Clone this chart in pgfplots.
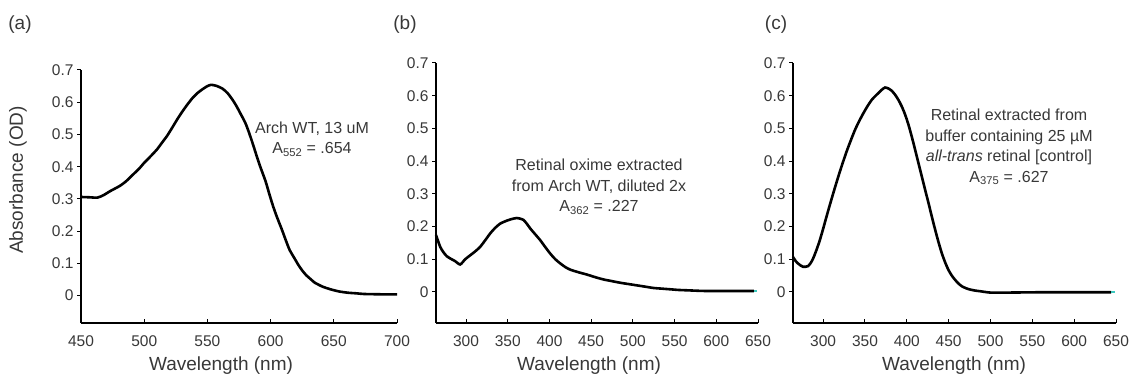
\documentclass[border=0pt]{standalone}
\usepackage{fontspec}
\setmainfont{Liberation Sans}
\usepackage{pgfplots}
\pgfplotsset{compat=1.18}
\definecolor{txt}{RGB}{56,56,56}
\definecolor{endmark}{RGB}{60,200,190}
\newcommand{\ticksize}{\fontsize{15.5bp}{18bp}\selectfont}
\newcommand{\titlesize}{\fontsize{19bp}{22bp}\selectfont}
\newcommand{\notesize}{\fontsize{16bp}{20.5bp}\selectfont}
\pgfplotsset{
  spec/.style={
    scale only axis, axis lines=left,
    axis line style={-, line width=1.8bp, black},
    tick align=outside, major tick length=4bp,
    tick style={line width=1bp, black},
    x tick style={yshift=4bp},
    ticklabel style={font=\ticksize, text=txt},
    xticklabel style={yshift=-5bp},
    /pgf/number format/assume math mode=true,
    /pgf/number format/fixed,
    ytick={0,0.1,0.2,0.3,0.4,0.5,0.6,0.7},
    ymax=0.7, clip=false,
  },
  curve/.style={black, line width=2.6bp, smooth, tension=0.4},
}

\begin{document}
\begin{tikzpicture}[x=1bp,y=1bp]
\useasboundingbox (0,0) rectangle (1130,383);

% (a) Arch WT
\begin{axis}[spec, at={(81bp,60bp)}, anchor=south west,
  width=316bp, height=253bp,
  xmin=450, xmax=700, ymin=-0.085,
  xtick={450,500,550,600,650,700}]
\addplot[curve] coordinates {
(450,0.306) (457,0.305) (463,0.304) (468,0.312) (473,0.324) (481,0.341)
(486,0.356) (491,0.375) (496,0.394) (500,0.412) (505,0.432) (510,0.453)
(514,0.474) (518,0.495) (522,0.520) (526,0.546) (530,0.570) (534,0.592)
(538,0.612) (542,0.628) (546,0.640) (550,0.650) (553,0.654) (557,0.651)
(562,0.642) (566,0.628) (570,0.607) (573,0.588) (576,0.566) (580,0.536)
(583,0.505) (586,0.470) (589,0.433) (592,0.398) (596,0.355) (599,0.315)
(602,0.277) (605,0.244) (609,0.204) (612,0.172) (615,0.142) (619,0.115)
(622,0.095) (625,0.078) (628,0.064) (632,0.050) (635,0.040) (641,0.028)
(647,0.020) (654,0.013) (661,0.009) (668,0.007) (674,0.005) (688,0.004)
(700,0.004)};
\end{axis}

% (b) retinal oxime from Arch WT
\begin{axis}[spec, at={(436bp,60bp)}, anchor=south west,
  width=322bp, height=260bp,
  xmin=264, xmax=650, ymin=-0.095,
  xtick={300,350,400,450,500,550,600,650}]
\addplot[curve] coordinates {
(264,0.174) (269,0.138) (273,0.121) (277,0.109) (282,0.101) (287,0.094)
(293,0.084) (299,0.100) (305,0.112) (311,0.124) (317,0.138) (323,0.158)
(329,0.179) (335,0.196) (341,0.209) (349,0.218) (355,0.223) (361,0.226)
(365,0.224) (369,0.220) (373,0.208) (377,0.194) (383,0.176) (389,0.158)
(395,0.137) (401,0.117) (407,0.100) (413,0.087) (419,0.076) (425,0.068)
(435,0.060) (445,0.053) (455,0.045) (465,0.038) (475,0.033) (485,0.028)
(495,0.024) (505,0.020) (515,0.016) (525,0.012) (535,0.010) (545,0.008)
(555,0.006) (565,0.005) (585,0.003) (615,0.003) (645,0.003)};
\addplot[endmark, line width=2bp] coordinates {(645,0.003) (649,0.003)};
\end{axis}

% (c) all-trans retinal control
\begin{axis}[spec, at={(793bp,60bp)}, anchor=south west,
  width=323bp, height=260bp,
  xmin=264, xmax=650, ymin=-0.095,
  xtick={300,350,400,450,500,550,600,650}]
\addplot[curve] coordinates {
(264,0.107) (267,0.095) (270,0.087) (273,0.081) (276,0.077) (279,0.077)
(282,0.079) (285,0.088) (288,0.102) (292,0.128) (296,0.158) (300,0.193)
(304,0.230) (308,0.266) (312,0.301) (316,0.335) (320,0.368) (324,0.399)
(328,0.429) (333,0.463) (338,0.495) (343,0.522) (348,0.546) (353,0.568)
(358,0.587) (362,0.598) (366,0.608) (370,0.618) (374,0.625) (378,0.622)
(382,0.615) (386,0.603) (390,0.587) (394,0.567) (398,0.542) (402,0.511)
(406,0.474) (410,0.434) (414,0.393) (418,0.352) (422,0.311) (426,0.271)
(430,0.229) (434,0.189) (438,0.151) (442,0.117) (446,0.089) (450,0.066)
(454,0.049) (458,0.036) (462,0.025) (466,0.017) (471,0.011) (476,0.007)
(482,0.004) (488,0.002) (500,-0.002) (520,-0.002) (560,-0.001)
(600,-0.001) (644,-0.001)};
\addplot[endmark, line width=2bp] coordinates {(644,-0.001) (649,-0.001)};
\end{axis}

% panel letters, axis titles, notes
\node[font=\titlesize, text=txt] at (20,358) {(a)};
\node[font=\titlesize, text=txt] at (405,358) {(b)};
\node[font=\titlesize, text=txt] at (776,358) {(c)};
\node[font=\titlesize, text=txt, rotate=90] at (18,203) {Absorbance (OD)};
\node[font=\titlesize, text=txt] at (221,17) {Wavelength (nm)};
\node[font=\titlesize, text=txt] at (589,17) {Wavelength (nm)};
\node[font=\titlesize, text=txt] at (954,17) {Wavelength (nm)};
\node[font=\notesize, text=txt, align=center] at (312,244)
  {Arch WT, 13 uM\\A\textsubscript{552} = .654};
\node[font=\notesize, text=txt, align=center] at (599,196)
  {Retinal oxime extracted\\from Arch WT, diluted 2x\\A\textsubscript{362} = .227};
\node[font=\notesize, text=txt, align=center] at (1009,236)
  {Retinal extracted from\\buffer containing 25 µM\\\textit{all-trans} retinal [control]\\A\textsubscript{375} = .627};
\end{tikzpicture}
\end{document}
